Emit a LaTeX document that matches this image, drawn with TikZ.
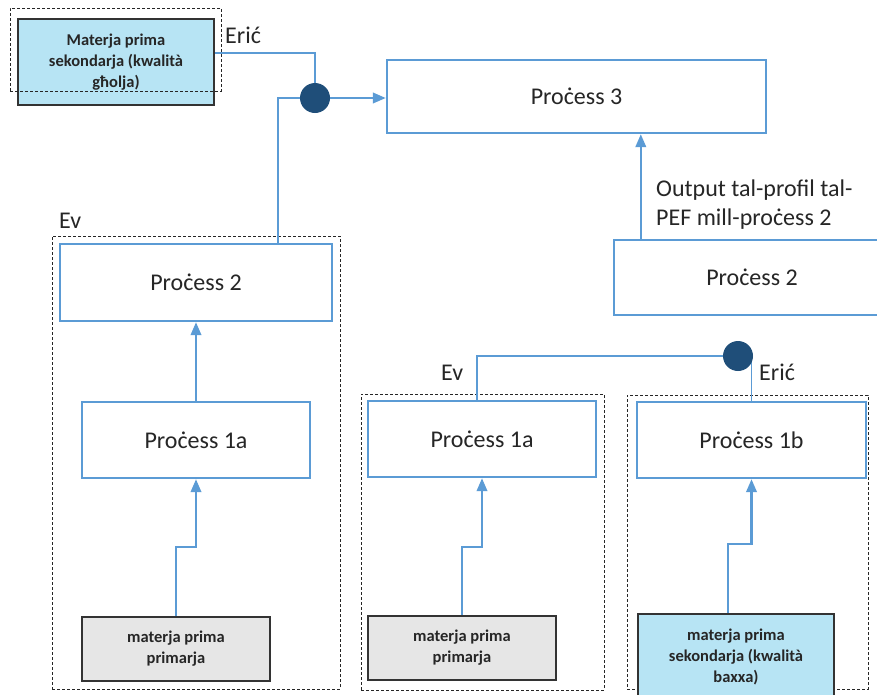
\documentclass[tikz,border=0pt]{standalone}
\usepackage{fontspec}
\setmainfont{Carlito}
\usepackage{xcolor}
\usetikzlibrary{arrows.meta}

\definecolor{procblue}{HTML}{5B9BD5}
\definecolor{jointblue}{HTML}{1F4E79}
\definecolor{sekcyan}{HTML}{B7E4F4}
\definecolor{primgray}{HTML}{E6E6E6}
\definecolor{txtgray}{HTML}{262626}

\begin{document}
\begin{tikzpicture}[x=1pt,y=-1pt,
    proc/.style 2 args={draw=procblue, line width=2.4pt, fill=white, minimum width=#1, minimum height=#2,
        inner sep=0pt, text=txtgray, font=\fontsize{24}{29}\selectfont},
    frame/.style 2 args={draw=black!85, line width=0.9pt, dash pattern=on 3pt off 2pt,
        minimum width=#1, minimum height=#2, inner sep=0pt},
    raw/.style={draw=black!80, line width=2pt, minimum width=188pt, minimum height=64pt, inner sep=0pt,
        align=center, text=txtgray, font=\bfseries\fontsize{16.5}{21}\selectfont},
    prim/.style={raw, fill=primgray},
    sek/.style={raw, fill=sekcyan, minimum width=196pt, minimum height=86pt},
    joint/.style={circle, fill=jointblue, minimum size=30pt, inner sep=0pt},
    lbl/.style={inner sep=0pt, text=txtgray, font=\fontsize{24}{29}\selectfont},
    flow/.style={draw=procblue, line width=2.3pt, -{Triangle[length=13pt,width=10.5pt]}},
    link/.style={draw=procblue, line width=2.3pt},
    wire/.style={draw=procblue, line width=1.2pt}]

    \useasboundingbox (0,0) rectangle (877,694);

    % groups
    \node[frame={288pt}{453pt}] (grpL) at (196,462.5) {};
    \node[frame={243pt}{296pt}] (grpM) at (482.5,542) {};
    \node[frame={241pt}{294pt}] (grpR) at (747.5,542) {};

    % processes
    \node[proc={379pt}{73pt}] (P3)   at (576.5, 96.5) {Proċess 3};
    \node[proc={272pt}{77pt}] (P2L)  at (196,  282.5) {Proċess 2};
    \node[proc={228pt}{76pt}] (P1aL) at (196,  440)   {Proċess 1a};
    \node[proc={228pt}{76pt}] (P1aM) at (482,  439)   {Proċess 1a};
    \node[proc={229pt}{76pt}] (P1b)  at (751.5,440)   {Proċess 1b};
    \node[proc={276pt}{75pt}] (P2R)  at (752,  277.5) {Proċess 2};

    % raw materials
    \node[prim] (mpL)  at (176,649) {materja prima\\primarja};
    \node[prim] (mpM)  at (462,648) {materja prima\\primarja};
    \node[sek]  (sekA) at (116,62)  {Materja prima\\sekondarja (kwalità\\għolja)};
    \node[sek]  (sekB) at (736,657) {materja prima\\sekondarja (kwalità\\baxxa)};
    \node[frame={211pt}{83pt}] (grpA) at (115.5,49.5) {};

    % labels
    \node[lbl, anchor=base west] (ericA) at (225,43)  {Erić};
    \node[lbl, anchor=base west] (evL)   at (59,228)  {Ev};
    \node[lbl, anchor=base west] (evM)   at (441,380) {Ev};
    \node[lbl, anchor=base west] (ericB) at (759,380) {Erić};
    \node[lbl, anchor=north west, align=left] (outP2) at (656,180) {Output tal-profil tal-\\PEF mill-proċess 2};

    % connectors
    \coordinate (jA) at (315,98);
    \coordinate (jB) at (738,356);
    \draw[wire] ([yshift=9pt]sekA.east) -| (jA);
    \draw[link] ([xshift=82pt]P2L.north) |- (jA);
    \draw[wire] ([xshift=-5pt]P1aM.north) |- (jB);
    \draw[wire] (jB) -| (P1b.north);
    \node[joint] (cA) at (jA) {};
    \node[joint] (cB) at (jB) {};

    \draw[flow] (cA.east) -- (cA.east -| P3.west);
    \draw[flow] (P1aL) -- (P2L);
    \draw[flow] (mpL.north) -- ++(0,-69) -| (P1aL.south);
    \draw[flow] (mpM.north) -- ++(0,-68) -| (P1aM.south);
    \draw[flow] ([xshift=-8pt]sekB.north) -- ++(0,-69) -| (P1b.south);
    \draw[flow] ([xshift=28pt]P2R.north west) -- ([xshift=28pt]P2R.north west |- P3.south);
\end{tikzpicture}
\end{document}
